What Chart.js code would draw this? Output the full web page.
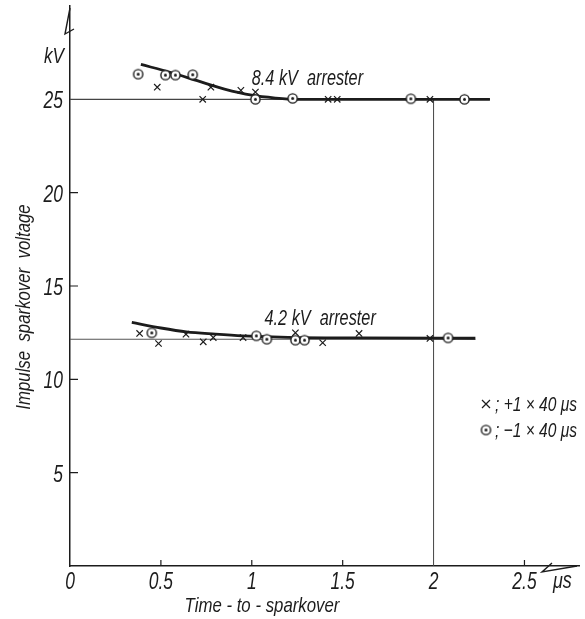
<!DOCTYPE html>
<html>
<head>
<meta charset="utf-8">
<script src="https://cdn.jsdelivr.net/npm/chart.js@4"></script>
<style>
  html, body { margin: 0; padding: 0; background: #fff; }
  #wrap { width: 585px; height: 619px; }
</style>
</head>
<body>
<div id="wrap"><canvas id="sparkChart" width="585" height="619"></canvas></div>
<script>
// Axis ticks
const X_TICKS = [0, 0.5, 1, 1.5, 2, 2.5];
const Y_TICKS = [5, 10, 15, 20, 25];

// 8.4 kV arrester: measured points
const POS8_X = [0.48, 0.73, 0.775, 0.94, 1.02, 1.42, 1.47, 1.98];
const POS8_Y = [25.65, 25.0, 25.65, 25.48, 25.39, 25.0, 25.0, 25.0];
const NEG8_X = [0.375, 0.525, 0.58, 0.675, 1.02, 1.225, 1.875, 2.17];
const NEG8_Y = [26.35, 26.3, 26.3, 26.32, 25.0, 25.05, 25.03, 25.0];

// 4.2 kV arrester: measured points
const POS4_X = [0.383, 0.487, 0.638, 0.733, 0.788, 0.952, 1.24, 1.39, 1.59, 1.98];
const POS4_Y = [12.46, 11.92, 12.42, 12.01, 12.24, 12.24, 12.49, 11.96, 12.46, 12.19];
const NEG4_X = [0.45, 1.025, 1.083, 1.24, 1.29, 2.08];
const NEG4_Y = [12.49, 12.33, 12.15, 12.1, 12.1, 12.22];

// Hand-fitted curves
const CURVE8_X = [0.39, 0.55, 0.7, 0.85, 1.0, 1.13, 1.25, 1.6, 2.31];
const CURVE8_Y = [26.87, 26.45, 26.0, 25.55, 25.22, 25.07, 25.0, 25.0, 25.0];
const CURVE4_X = [0.34, 0.5, 0.64, 0.8, 0.95, 1.2, 1.6, 2.23];
const CURVE4_Y = [13.05, 12.75, 12.54, 12.42, 12.33, 12.25, 12.22, 12.2];

// Thin reference lines
const REF8_X = [0, 2.31];
const REF8_Y = [25, 25];
const REF4_X = [0, 2.23];
const REF4_Y = [12.15, 12.15];
const VLINE_X = [2, 2];
const VLINE_Y = [0, 25];

const FONT = "'Liberation Sans', Arial, sans-serif";
const INK = '#1c1c1c';

function pts(xs, ys) {
    return xs.map((x, i) => ({ x: x, y: ys[i] }));
}

// narrow italic text, anchored like fillText
function narrowText(ctx, str, x, y, align, size, squeeze) {
    ctx.save();
    ctx.font = 'italic ' + (size || 22) + 'px ' + FONT;
    ctx.textAlign = align || 'left';
    ctx.translate(x, y);
    ctx.scale(squeeze || 0.78, 1);
    ctx.fillText(str, 0, 0);
    ctx.restore();
}

// Circle-with-dot marker
function makeDotCircle() {
    const c = document.createElement('canvas');
    c.width = 13; c.height = 13;
    const g = c.getContext('2d');
    g.fillStyle = '#fff';
    g.strokeStyle = INK;
    g.lineWidth = 1.4;
    g.beginPath(); g.arc(6.5, 6.5, 4.6, 0, Math.PI * 2); g.fill(); g.stroke();
    g.fillStyle = INK;
    g.beginPath(); g.arc(6.5, 6.5, 1.5, 0, Math.PI * 2); g.fill();
    return c;
}
const dotCircle = makeDotCircle();

// Extra drawing: ticks, tick labels, arrows, labels
const decorPlugin = {
    id: 'decor',
    afterDraw(chart) {
        const ctx = chart.ctx;
        const xs = chart.scales.x, ys = chart.scales.y;
        const area = chart.chartArea;
        ctx.save();
        ctx.strokeStyle = INK;
        ctx.fillStyle = INK;
        ctx.lineWidth = 1.2;
        ctx.textBaseline = 'alphabetic';

        // inner tick marks
        ctx.beginPath();
        ys.ticks.forEach(t => {
            if (t.value === 25) return;
            const py = ys.getPixelForValue(t.value);
            ctx.moveTo(area.left, py); ctx.lineTo(area.left + 8, py);
        });
        xs.ticks.forEach(t => {
            if (t.value === 0 || t.value === 2) return;
            const px = xs.getPixelForValue(t.value);
            ctx.moveTo(px, area.bottom); ctx.lineTo(px, area.bottom - 6);
        });
        ctx.stroke();

        // tick labels
        ys.ticks.forEach(t => {
            narrowText(ctx, String(t.value), area.left - 7, ys.getPixelForValue(t.value) + 9, 'right', 23, 0.76);
        });
        xs.ticks.forEach(t => {
            narrowText(ctx, String(t.value), xs.getPixelForValue(t.value), area.bottom + 23, 'center', 23, 0.76);
        });

        // axis arrows
        ctx.lineWidth = 1.4;
        ctx.beginPath();
        ctx.moveTo(area.left, area.top + 2);
        ctx.lineTo(area.left - 5, area.top + 28);
        ctx.lineTo(area.left + 4, area.top + 23);
        ctx.stroke();
        ctx.beginPath();
        ctx.moveTo(area.right - 2, area.bottom);
        ctx.lineTo(area.right - 37, area.bottom + 6);
        ctx.lineTo(area.right - 27, area.bottom - 3);
        ctx.stroke();

        // units
        narrowText(ctx, 'kV', area.left - 6, 63, 'right', 22);
        narrowText(ctx, '\u03bcs', 553, 588, 'left', 23);

        // curve labels
        narrowText(ctx, '8.4 kV  arrester', xs.getPixelForValue(1.0), ys.getPixelForValue(25.75), 'left', 22, 0.74);
        narrowText(ctx, '4.2 kV  arrester', xs.getPixelForValue(1.07), ys.getPixelForValue(12.9), 'left', 22, 0.74);

        // axis titles
        narrowText(ctx, 'Time - to - sparkover', 262, 612, 'center', 21, 0.8);
        ctx.save();
        ctx.translate(30, 307);
        ctx.rotate(-Math.PI / 2);
        narrowText(ctx, 'Impulse  sparkover  voltage', 0, 0, 'center', 21, 0.8);
        ctx.restore();

        // legend
        const lx = 486, ly1 = 404, ly2 = 430;
        ctx.lineWidth = 1.2;
        ctx.beginPath();
        ctx.moveTo(lx - 4, ly1 - 4); ctx.lineTo(lx + 4, ly1 + 4);
        ctx.moveTo(lx + 4, ly1 - 4); ctx.lineTo(lx - 4, ly1 + 4);
        ctx.stroke();
        ctx.drawImage(dotCircle, lx - 6.5, ly2 - 6.5);
        narrowText(ctx, '; +1 \u00d7 40 \u03bcs', lx + 9, ly1 + 7, 'left', 21, 0.74);
        narrowText(ctx, '; \u22121 \u00d7 40 \u03bcs', lx + 9, ly2 + 7, 'left', 21, 0.74);
        ctx.restore();
    }
};

const ctx = document.getElementById('sparkChart').getContext('2d');

new Chart(ctx, {
    type: 'scatter',
    data: {
        datasets: [
            { data: pts(NEG8_X, NEG8_Y), pointStyle: dotCircle, pointRadius: 5 },
            { data: pts(NEG4_X, NEG4_Y), pointStyle: dotCircle, pointRadius: 5 },
            { data: pts(POS8_X, POS8_Y), pointStyle: 'crossRot', pointRadius: 4.5, pointBorderColor: INK, pointBorderWidth: 1.2 },
            { data: pts(POS4_X, POS4_Y), pointStyle: 'crossRot', pointRadius: 4.5, pointBorderColor: INK, pointBorderWidth: 1.2 },
            { data: pts(CURVE8_X, CURVE8_Y), showLine: true, borderColor: INK, borderWidth: 2.8, pointRadius: 0, cubicInterpolationMode: 'monotone' },
            { data: pts(CURVE4_X, CURVE4_Y), showLine: true, borderColor: INK, borderWidth: 2.8, pointRadius: 0, cubicInterpolationMode: 'monotone' },
            { data: pts(REF8_X, REF8_Y), showLine: true, borderColor: '#444', borderWidth: 1.1, pointRadius: 0 },
            { data: pts(REF4_X, REF4_Y), showLine: true, borderColor: '#555', borderWidth: 1.1, pointRadius: 0 },
            { data: pts(VLINE_X, VLINE_Y), showLine: true, borderColor: '#444', borderWidth: 1, pointRadius: 0 }
        ]
    },
    options: {
        responsive: false,
        animation: false,
        layout: { padding: { top: 6, right: 1, left: 0, bottom: 0 } },
        plugins: { legend: { display: false }, tooltip: { enabled: false } },
        scales: {
            x: {
                type: 'linear',
                min: 0,
                max: 2.8,
                afterFit(scale) { scale.height = 53; },
                afterBuildTicks(scale) { scale.ticks = X_TICKS.map(v => ({ value: v })); },
                grid: { display: false, drawTicks: false },
                border: { display: true, color: INK, width: 1.5 },
                ticks: { display: false }
            },
            y: {
                type: 'linear',
                min: 0,
                max: 30,
                afterFit(scale) { scale.width = 70; },
                afterBuildTicks(scale) { scale.ticks = Y_TICKS.map(v => ({ value: v })); },
                grid: { display: false, drawTicks: false },
                border: { display: true, color: INK, width: 1.5 },
                ticks: { display: false }
            }
        }
    },
    plugins: [decorPlugin]
});
</script>
</body>
</html>
